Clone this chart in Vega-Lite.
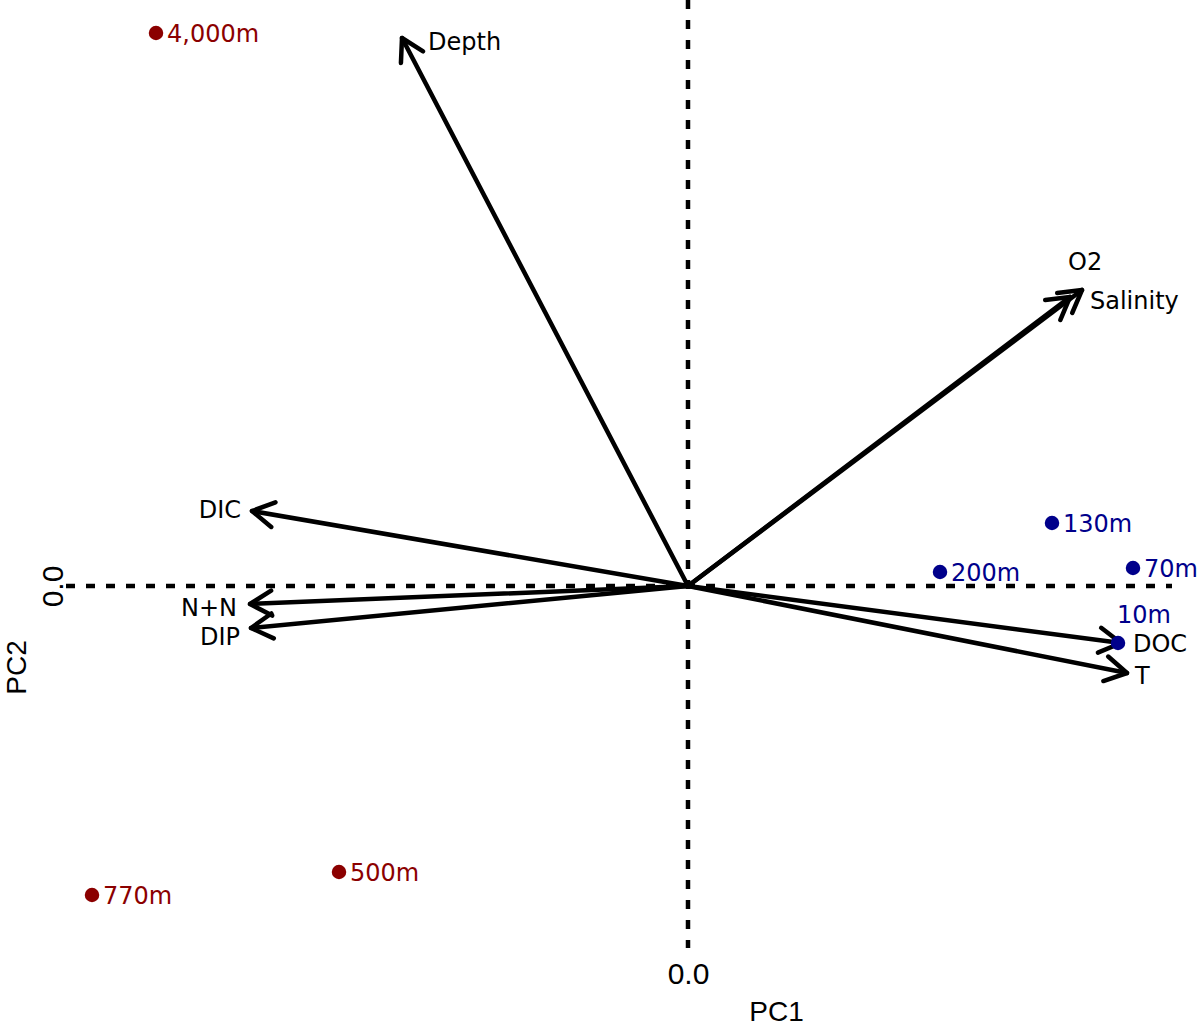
{
  "$schema": "https://vega.github.io/schema/vega-lite/v6.json",
  "width": 1124,
  "height": 956,
  "autosize": {"type": "none"},
  "padding": {"left": 64, "top": 0, "right": 12, "bottom": 71},
  "background": "white",
  "config": {"view": {"stroke": null}},
  "datasets": {
    "vars": [
      {"var": "Depth", "x": -2.86, "y": 5.48, "lx": -2.60, "ly": 5.43},
      {"var": "O2", "x": 3.82, "y": 2.89, "lx": 3.80, "ly": 3.23},
      {"var": "Salinity", "x": 3.94, "y": 2.96, "lx": 4.02, "ly": 2.84},
      {"var": "DIC", "x": -4.36, "y": 0.75, "lx": -4.47, "ly": 0.75},
      {"var": "N+N", "x": -4.38, "y": -0.18, "lx": -4.51, "ly": -0.23},
      {"var": "DIP", "x": -4.37, "y": -0.42, "lx": -4.48, "ly": -0.52},
      {"var": "DOC", "x": 4.33, "y": -0.57, "lx": 4.45, "ly": -0.59},
      {"var": "T", "x": 4.39, "y": -0.87, "lx": 4.47, "ly": -0.91}
    ],
    "samples": [
      {"depth": "4,000m", "x": -5.32, "y": 5.53, "grp": "deep"},
      {"depth": "770m", "x": -5.96, "y": -3.09, "grp": "deep"},
      {"depth": "500m", "x": -3.49, "y": -2.86, "grp": "deep"},
      {"depth": "130m", "x": 3.64, "y": 0.63, "grp": "shallow"},
      {"depth": "200m", "x": 2.52, "y": 0.14, "grp": "shallow"},
      {"depth": "70m", "x": 4.45, "y": 0.18, "grp": "shallow"},
      {"depth": "10m", "x": 4.30, "y": -0.57, "grp": "shallow"}
    ]
  },
  "layer": [
    {
      "data": {"values": [{}]},
      "mark": {"type": "rule", "stroke": "black", "strokeWidth": 4.5, "strokeDash": [9, 11]},
      "encoding": {
        "x": {"datum": 0, "type": "quantitative",
          "scale": {"domain": [-6.24, 5.0], "nice": false, "zero": false},
          "title": "PC1",
          "axis": {"values": [0], "format": ".1f", "domain": false, "ticks": false, "grid": false,
            "labelFont": "Liberation Sans", "labelFontSize": 30, "labelColor": "black", "labelPadding": 3,
            "titleFont": "Liberation Sans", "titleFontSize": 28, "titleFontWeight": "normal", "titleColor": "black",
            "titleX": 712, "titleY": 64, "titleBaseline": "alphabetic", "titleAlign": "center"}},
        "y": {"datum": 5.86, "type": "quantitative",
          "scale": {"domain": [-3.7, 5.86], "nice": false, "zero": false},
          "title": "PC2",
          "axis": {"values": [0], "format": ".1f", "domain": false, "ticks": false, "grid": false,
            "labelFont": "Liberation Sans", "labelFontSize": 30, "labelColor": "black", "labelPadding": 2,
            "labelAngle": 270, "labelAlign": "center", "labelBaseline": "alphabetic",
            "titleFont": "Liberation Sans", "titleFontSize": 28, "titleFontWeight": "normal", "titleColor": "black",
            "titleX": -39, "titleY": 667, "titleAngle": 270, "titleBaseline": "alphabetic", "titleAlign": "center"}},
        "y2": {"datum": -3.62}
      }
    },
    {
      "data": {"values": [{}]},
      "mark": {"type": "rule", "stroke": "black", "strokeWidth": 4.5, "strokeDash": [9, 11]},
      "encoding": {
        "y": {"datum": 0, "type": "quantitative", "title": "PC2"},
        "x": {"datum": -6.22, "type": "quantitative", "title": "PC1"},
        "x2": {"datum": 4.84}
      }
    },
    {
      "data": {"name": "vars"},
      "mark": {"type": "rule", "stroke": "black", "strokeWidth": 4.5, "strokeCap": "round"},
      "encoding": {
        "x": {"field": "x", "type": "quantitative", "title": "PC1"},
        "y": {"field": "y", "type": "quantitative", "title": "PC2"},
        "x2": {"datum": 0},
        "y2": {"datum": 0}
      }
    },
    {
      "data": {"name": "vars"},
      "transform": [{"calculate": "atan2(-datum.y, datum.x) * 180 / PI", "as": "ang"}],
      "mark": {"type": "point", "shape": "M-0.866,-0.5 L0,0 L-0.866,0.5", "filled": false, "stroke": "black",
        "strokeWidth": 4.5, "strokeCap": "round", "strokeJoin": "round", "size": 2500, "opacity": 1},
      "encoding": {
        "x": {"field": "x", "type": "quantitative", "title": "PC1"},
        "y": {"field": "y", "type": "quantitative", "title": "PC2"},
        "angle": {"field": "ang", "type": "quantitative", "scale": null}
      }
    },
    {
      "data": {"name": "vars"},
      "transform": [{"filter": "indexof(['DIC','N+N','DIP'], datum.var) >= 0"}],
      "mark": {"type": "text", "align": "right", "baseline": "middle", "font": "DejaVu Sans", "fontSize": 24, "color": "black"},
      "encoding": {
        "x": {"field": "lx", "type": "quantitative", "title": "PC1"},
        "y": {"field": "ly", "type": "quantitative", "title": "PC2"},
        "text": {"field": "var"}
      }
    },
    {
      "data": {"name": "vars"},
      "transform": [{"filter": "indexof(['Depth','Salinity','DOC','T','O2'], datum.var) >= 0"}],
      "mark": {"type": "text", "align": "left", "baseline": "middle", "font": "DejaVu Sans", "fontSize": 24, "color": "black"},
      "encoding": {
        "x": {"field": "lx", "type": "quantitative", "title": "PC1"},
        "y": {"field": "ly", "type": "quantitative", "title": "PC2"},
        "text": {"field": "var"}
      }
    },
    {
      "data": {"name": "samples"},
      "mark": {"type": "circle", "size": 210, "opacity": 1},
      "encoding": {
        "x": {"field": "x", "type": "quantitative", "title": "PC1"},
        "y": {"field": "y", "type": "quantitative", "title": "PC2"},
        "color": {"field": "grp", "type": "nominal", "scale": {"domain": ["deep", "shallow"], "range": ["#8b0000", "#00008b"]}, "legend": null}
      }
    },
    {
      "data": {"name": "samples"},
      "transform": [{"filter": "datum.depth != '10m'"}],
      "mark": {"type": "text", "align": "left", "baseline": "middle", "dx": 11, "dy": 2, "font": "DejaVu Sans", "fontSize": 24},
      "encoding": {
        "x": {"field": "x", "type": "quantitative", "title": "PC1"},
        "y": {"field": "y", "type": "quantitative", "title": "PC2"},
        "text": {"field": "depth"},
        "color": {"field": "grp", "type": "nominal", "legend": null}
      }
    },
    {
      "data": {"name": "samples"},
      "transform": [{"filter": "datum.depth == '10m'"}],
      "mark": {"type": "text", "align": "center", "baseline": "middle", "dx": 26, "dy": -27, "font": "DejaVu Sans", "fontSize": 24},
      "encoding": {
        "x": {"field": "x", "type": "quantitative", "title": "PC1"},
        "y": {"field": "y", "type": "quantitative", "title": "PC2"},
        "text": {"field": "depth"},
        "color": {"field": "grp", "type": "nominal", "legend": null}
      }
    }
  ]
}
